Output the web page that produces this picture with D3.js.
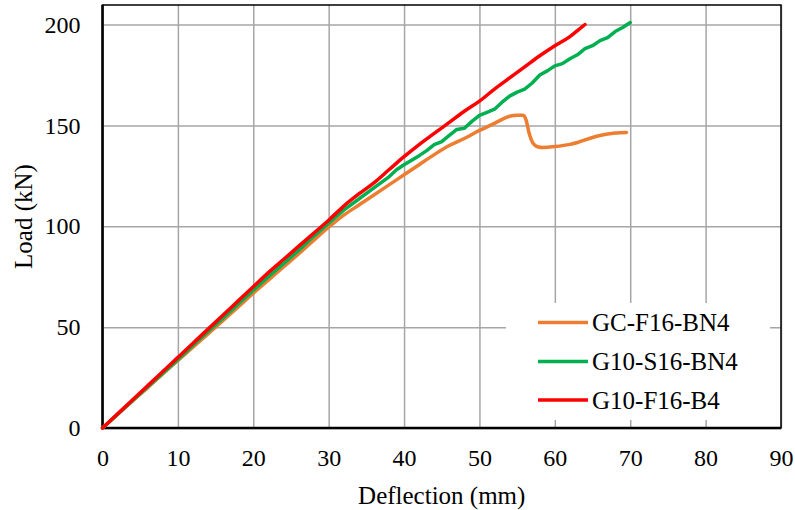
<!DOCTYPE html>
<html>
<head>
<meta charset="utf-8">
<script src="https://cdn.jsdelivr.net/npm/d3@7"></script>
<style>
  body { margin: 0; background: #fff; }
  svg { display: block; font-family: "Liberation Serif", "Times New Roman", serif; }
</style>
</head>
<body>
<div id="chart"></div>
<script>
// series names and colours
var seriesNames = ["GC-F16-BN4", "G10-S16-BN4", "G10-F16-B4"];
var seriesColors = ["#ED7D31", "#00B050", "#FF0000"];

// GC-F16-BN4
var orangeX = [0, 2, 4, 6, 8, 10, 12, 14, 16, 18, 20, 22, 24, 26, 28, 30, 32, 34, 36, 38, 40, 42, 44, 46, 48, 50, 52, 53, 54, 55, 55.8, 56.2, 56.6, 57.1, 57.7, 58.5, 60, 62, 63, 64, 65, 66, 67, 68, 69.5];
var orangeY = [0, 6.7, 13.4, 20, 26.8, 33.5, 40, 46.6, 53.3, 60, 66.8, 73.3, 79.8, 86.3, 93, 99.5, 105.5, 110.5, 115.5, 120.5, 125.5, 130.5, 135.5, 140, 143.5, 147.5, 151, 153, 154.5, 155, 155, 152.5, 146, 141.2, 139.4, 139, 139.5, 140.6, 141.5, 142.8, 144, 145, 145.7, 146.2, 146.5];

// G10-S16-BN4
var greenX = [0, 2, 4, 6, 8, 10, 12, 14, 16, 18, 20, 22, 24, 26, 28, 30, 32, 34, 36, 38, 39, 40, 42, 43, 44, 45, 46, 47, 48, 49, 50, 51, 52, 53, 54, 55, 56, 57, 58, 59, 60, 61, 62, 63, 64, 65, 66, 67, 68, 69, 70];
var greenY = [0, 6.8, 13.6, 20.5, 27.2, 34, 41, 47.8, 54.6, 61.5, 68.3, 75, 81.5, 88, 95, 101.5, 108, 113.5, 119, 124.5, 128, 130.5, 135, 137.5, 140.5, 142, 145, 148, 148.6, 152, 155, 156.5, 158, 161.5, 164.5, 166.5, 168, 171, 175, 177, 179.5, 180.6, 183, 185, 188, 189.5, 192, 193.5, 196.5, 198.5, 201];

// G10-F16-B4
var redX = [0, 2, 4, 6, 8, 10, 12, 14, 16, 18, 20, 22, 24, 26, 28, 30, 32, 34, 36, 38, 40, 42, 44, 46, 48, 50, 52, 54, 56, 58, 60, 62, 63, 64];
var redY = [0, 7, 14, 21, 28, 35, 42, 49, 56, 63, 70, 77, 83.5, 90, 96.5, 103, 110, 116, 121.5, 128, 134.5, 140.5, 146, 151.5, 157, 162, 168, 173.5, 179, 184.5, 189.5, 194, 197, 200];

// axis ticks
var xTicks = [0, 10, 20, 30, 40, 50, 60, 70, 80, 90];
var yTicks = [0, 50, 100, 150, 200];

var w = 795, h = 510;
var plotL = 102.5, plotR = 781, plotT = 5, plotB = 428;
var fontFam = "'Liberation Serif', 'Times New Roman', serif";

var svg = d3.select("#chart").append("svg")
  .attr("width", w)
  .attr("height", h);

svg.append("rect").attr("width", w).attr("height", h).attr("fill", "#fff");

var x = d3.scaleLinear().domain([0, 90]).range([plotL, plotR]);
var y = d3.scaleLinear().domain([0, 200]).range([plotB, 24.5]);

// x axis with vertical grid
var gx = svg.append("g")
  .attr("transform", "translate(0," + plotB + ")")
  .call(d3.axisBottom(x).tickValues(xTicks).tickSizeInner(-(plotB - plotT)).tickSizeOuter(0).tickPadding(21));
gx.select(".domain").remove();
gx.selectAll(".tick line").attr("stroke", "#A6A6A6").attr("stroke-width", 1.5);
gx.selectAll(".tick text").attr("font-size", "24px").attr("fill", "#000")
  .style("font-family", fontFam);

// y axis with horizontal grid
var gy = svg.append("g")
  .attr("transform", "translate(" + plotL + ",0)")
  .call(d3.axisLeft(y).tickValues(yTicks).tickSizeInner(-(plotR - plotL)).tickSizeOuter(0).tickPadding(22));
gy.select(".domain").remove();
gy.selectAll(".tick line").attr("stroke", "#A6A6A6").attr("stroke-width", 1.5);
gy.selectAll(".tick text").attr("font-size", "24px").attr("fill", "#000")
  .style("font-family", fontFam);

// plot frame
svg.append("rect")
  .attr("x", plotL).attr("y", plotT)
  .attr("width", plotR - plotL).attr("height", plotB - plotT)
  .attr("fill", "none").attr("stroke", "#000").attr("stroke-width", 1.5);
svg.append("line").attr("x1", plotL).attr("x2", plotL).attr("y1", plotT).attr("y2", plotB)
  .attr("stroke", "#000").attr("stroke-width", 2.5);
svg.append("line").attr("x1", plotL).attr("x2", plotR).attr("y1", plotB).attr("y2", plotB)
  .attr("stroke", "#000").attr("stroke-width", 2.5);

// series
var series = [
  { xs: orangeX, ys: orangeY, curve: d3.curveMonotoneX },
  { xs: greenX, ys: greenY, curve: d3.curveLinear },
  { xs: redX, ys: redY, curve: d3.curveMonotoneX }
];

series.forEach(function(s, i) {
  var pts = s.xs.map(function(d, j) { return [d, s.ys[j]]; });
  var line = d3.line()
    .x(function(d) { return x(d[0]); })
    .y(function(d) { return y(d[1]); })
    .curve(s.curve);
  svg.append("path")
    .datum(pts)
    .attr("d", line)
    .attr("fill", "none")
    .attr("stroke", seriesColors[i])
    .attr("stroke-width", 3.5)
    .attr("stroke-linejoin", "round")
    .attr("stroke-linecap", "round");
});

// legend
var legend = svg.append("g");
legend.append("rect")
  .attr("x", 506).attr("y", 303).attr("width", 264).attr("height", 117)
  .attr("fill", "#fff");
var legendY = [322.5, 361.5, 400];
seriesNames.forEach(function(name, i) {
  legend.append("line")
    .attr("x1", 538).attr("x2", 588)
    .attr("y1", legendY[i]).attr("y2", legendY[i])
    .attr("stroke", seriesColors[i]).attr("stroke-width", 3.5);
  legend.append("text")
    .attr("x", 592).attr("y", legendY[i] + 8.5)
    .attr("font-size", "25px")
    .text(name);
});

// axis titles
svg.append("text")
  .attr("x", (plotL + plotR) / 2).attr("y", 504)
  .attr("text-anchor", "middle")
  .attr("font-size", "25px")
  .text("Deflection (mm)");
svg.append("text")
  .attr("transform", "translate(32," + ((plotT + plotB) / 2) + ") rotate(-90)")
  .attr("text-anchor", "middle")
  .attr("font-size", "25px")
  .text("Load (kN)");
</script>
</body>
</html>
